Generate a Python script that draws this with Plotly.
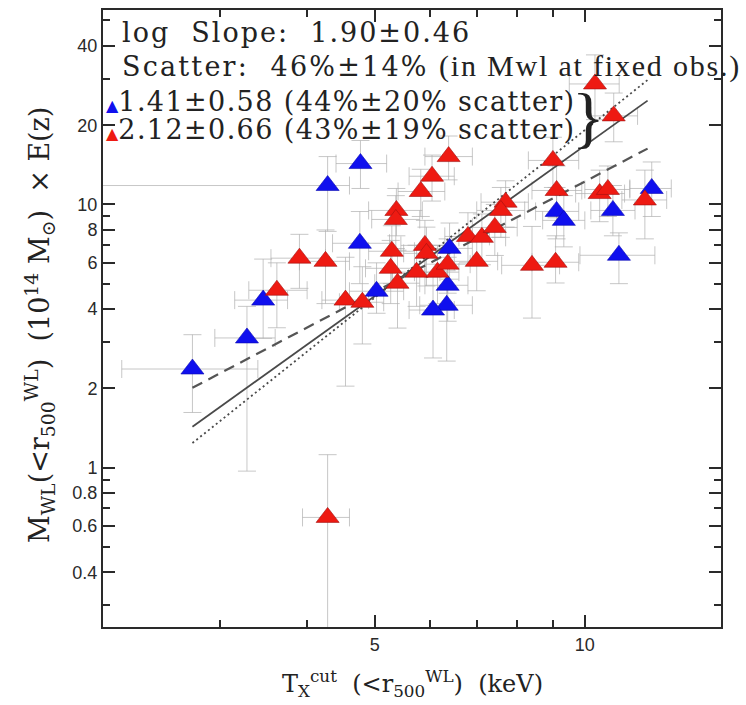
import plotly.graph_objects as go

# ---------------- data ----------------
blue_T = [2.74, 3.28, 3.46, 4.28, 4.77, 4.76, 5.03, 6.40, 6.36, 6.34, 6.06, 9.11, 9.33, 10.97, 11.19, 12.47]
blue_M = [2.37, 3.11, 4.33, 11.8, 14.3, 7.12, 4.68, 6.81, 4.93, 4.14, 3.97, 9.41, 8.70, 9.49, 6.41, 11.5]
blue_T_lo = [2.17, 2.95, 3.15, 1.5, 4.4, 4.35, 4.6, 5.9, 5.9, 5.8, 5.6, 8.5, 8.7, 10.2, 9.84, 11.6]
blue_T_hi = [3.40, 3.6, 3.75, 4.6, 5.2, 5.25, 5.5, 6.9, 6.8, 6.9, 6.5, 9.8, 10.0, 11.8, 12.6, 13.3]
blue_M_lo = [1.62, 0.97, 3.1, 7.9, 11.5, 5.0, 3.86, 5.2, 3.6, 2.54, 2.61, 7.4, 6.9, 7.6, 5.0, 9.0]
blue_M_hi = [3.2, 4.1, 6.2, 15.2, 17.5, 9.4, 6.0, 8.5, 6.3, 5.6, 5.3, 11.6, 10.8, 11.8, 7.8, 14.5]

red_T = [3.62, 3.90, 4.25, 4.28, 4.54, 4.80, 5.29, 5.27, 5.39, 5.37, 5.36, 5.82, 6.04, 6.38, 5.90, 5.93, 5.74,
         6.15, 6.36, 6.80, 7.12, 7.43, 7.70, 7.58, 7.00, 9.00, 9.11, 8.40, 9.08, 10.50, 10.79, 10.34, 11.0, 12.19]
red_M = [4.72, 6.25, 6.08, 0.647, 4.33, 4.25, 6.64, 5.72, 5.02, 9.49, 8.77, 11.2, 12.8, 15.2, 6.99, 6.52, 5.53,
         5.53, 5.93, 7.56, 7.50, 8.18, 10.2, 9.49, 6.08, 14.7, 11.3, 5.87, 6.03, 11.0, 11.4, 28.7, 21.7, 10.4]
red_T_lo = [3.3, 3.55, 3.9, 3.94, 4.2, 4.45, 4.9, 4.85, 5.0, 4.9, 4.95, 5.4, 5.6, 5.9, 5.45, 5.5, 5.3,
            5.7, 5.9, 6.3, 6.6, 6.9, 7.1, 7.0, 6.5, 8.3, 8.4, 7.6, 8.4, 9.7, 10.0, 9.5, 10.2, 11.3]
red_T_hi = [4.0, 4.25, 4.6, 4.6, 4.9, 5.15, 5.7, 5.7, 5.8, 5.85, 5.8, 6.3, 6.5, 6.9, 6.4, 6.4, 6.2,
            6.6, 6.85, 7.3, 7.7, 8.0, 8.3, 8.2, 7.5, 9.8, 9.9, 9.2, 9.8, 11.4, 11.6, 11.2, 11.9, 13.1]
red_M_lo = [3.4, 4.8, 4.2, 0.2, 2.04, 2.95, 5.0, 4.2, 3.39, 7.6, 6.8, 9.0, 10.3, 12.4, 5.4, 4.9, 4.1,
            4.2, 4.6, 6.0, 5.9, 6.4, 8.2, 7.5, 4.7, 11.6, 8.9, 3.7, 5.03, 8.6, 9.0, 21.0, 17.3, 7.4]
red_M_hi = [6.0, 7.7, 8.0, 1.12, 6.3, 5.8, 8.3, 7.3, 6.7, 11.5, 10.8, 13.6, 15.4, 18.2, 8.7, 8.2, 7.0,
            7.0, 7.4, 9.3, 9.2, 10.0, 12.3, 11.6, 7.6, 18.0, 14.0, 8.25, 7.6, 13.5, 14.0, 37.0, 26.5, 13.5]

fit_T = [2.74, 12.3]
fit_all = [1.43, 24.8]
fit_red = [1.24, 29.7]
fit_blue = [2.01, 16.3]

x_ticks = [5, 10]
x_minor = [3, 4, 6, 7, 8, 9]
y_ticks = [0.4, 0.6, 0.8, 1, 2, 4, 6, 8, 10, 20, 40]
y_tick_text = ["0.4", "0.6", "0.8", "1", "2", "4", "6", "8", "10", "20", "40"]
y_minor = [0.3, 0.5, 0.7, 0.9, 3, 5, 7, 9, 30, 50]

# ---------------- figure ----------------
W, H = 746, 705
L, R, T, B = 103, 25, 8, 78
pw, ph = W - L - R, H - T - B


def px(x):
    return (x - L) / pw


def py(y):
    return (H - B - y) / ph


def errs(v, lo, hi):
    return [h - a for a, h in zip(v, hi)], [a - l for a, l in zip(v, lo)]


fig = go.Figure()
ebc = "rgba(175,175,175,0.7)"
for Tv, Mv, tlo, thi, mlo, mhi in [
    (blue_T, blue_M, blue_T_lo, blue_T_hi, blue_M_lo, blue_M_hi),
    (red_T, red_M, red_T_lo, red_T_hi, red_M_lo, red_M_hi),
]:
    xp, xm = errs(Tv, tlo, thi)
    yp, ym = errs(Mv, mlo, mhi)
    fig.add_trace(go.Scatter(
        x=Tv, y=Mv, mode="markers", marker=dict(size=1, opacity=0),
        error_x=dict(type="data", array=xp, arrayminus=xm, color=ebc, thickness=1, width=9),
        error_y=dict(type="data", array=yp, arrayminus=ym, color=ebc, thickness=1, width=9),
        showlegend=False, hoverinfo="skip"))

fig.add_trace(go.Scatter(x=fit_T, y=fit_all, mode="lines",
                         line=dict(color="#4a4a4a", width=1.8), showlegend=False))
fig.add_trace(go.Scatter(x=fit_T, y=fit_red, mode="lines",
                         line=dict(color="#4a4a4a", width=1.8, dash="2px,3px"), showlegend=False))
fig.add_trace(go.Scatter(x=fit_T, y=fit_blue, mode="lines",
                         line=dict(color="#555555", width=2.2, dash="11px,7px"), showlegend=False))

fig.add_trace(go.Scatter(x=blue_T, y=blue_M, mode="markers",
                         marker=dict(symbol="triangle-up", size=20, color="#1010ee",
                                     line=dict(color="#0a0ab0", width=0.6)), showlegend=False))
fig.add_trace(go.Scatter(x=red_T, y=red_M, mode="markers",
                         marker=dict(symbol="triangle-up", size=20, color="#ee1a12",
                                     line=dict(color="#a01010", width=0.6)), showlegend=False))

axis_common = dict(type="log", showgrid=False, zeroline=False, showline=True, linecolor="#2a2a2a",
                   linewidth=2, mirror="ticks", ticks="inside", ticklen=12, tickwidth=1.5,
                   tickcolor="#2a2a2a", tickfont=dict(family="Liberation Sans", size=18, color="#2a2a2a"))

fig.update_xaxes(**axis_common, range=[0.3096, 1.1951], tickmode="array", tickvals=x_ticks,
                 ticktext=[str(v) for v in x_ticks],
                 minor=dict(tickmode="array", tickvals=x_minor, ticks="inside", ticklen=7,
                            tickwidth=1.5, tickcolor="#2a2a2a", showgrid=False))
fig.update_yaxes(**axis_common, range=[-0.6055, 1.7388], tickmode="array", tickvals=y_ticks,
                 ticktext=y_tick_text,
                 minor=dict(tickmode="array", tickvals=y_minor, ticks="inside", ticklen=7,
                            tickwidth=1.5, tickcolor="#2a2a2a", showgrid=False))

serif = "DejaVu Serif"
tcol = "#222222"


def spaced(s, ls):
    return "<span style='letter-spacing:%spx'>%s</span>" % (ls, s)


ann = []
ann.append(dict(x=px(120), y=py(31), text=spaced("log  Slope:  1.90±0.46", 2),
                font=dict(family=serif, size=27, color=tcol)))
ann.append(dict(x=px(120), y=py(65), text=spaced("Scatter:  46%±14%", 2.2),
                font=dict(family=serif, size=27, color=tcol)))
ann.append(dict(x=px(437), y=py(64), text=spaced("(in Mwl at fixed obs.)", 1.8),
                font=dict(family="Liberation Serif", size=30, color=tcol)))
ann.append(dict(x=px(104), y=py(100),
                text="<span style='color:#1010ee;font-size:16px'>▲</span>" + spaced("1.41±0.58 (44%±20% scatter)", 1.4),
                font=dict(family=serif, size=27, color=tcol)))
ann.append(dict(x=px(104), y=py(128),
                text="<span style='color:#ee1a12;font-size:16px'>▲</span>" + spaced("2.12±0.66 (43%±19% scatter)", 1.4),
                font=dict(family=serif, size=27, color=tcol)))
ann.append(dict(x=px(570), y=py(115), text="}", font=dict(family="Liberation Serif", size=68, color=tcol)))
for a in ann:
    a.update(xref="paper", yref="paper", xanchor="left", yanchor="middle", showarrow=False)
# axis titles
ann.append(dict(x=px(412), y=py(684), xref="paper", yref="paper", showarrow=False,
                text="T<sub>X</sub><sup>cut</sup>  (&lt;r<sub>500</sub><sup>WL</sup>)  (keV)",
                font=dict(family=serif, size=24, color=tcol), xanchor="center", yanchor="middle"))
ann.append(dict(x=px(40), y=py(324), xref="paper", yref="paper", showarrow=False, textangle=-90,
                text="M<sub>WL</sub>(&lt;r<sub>500</sub><sup>WL</sup>)  (10<sup>14</sup> M<sub>⊙</sub>)  × E(z)",
                font=dict(family=serif, size=27, color=tcol), xanchor="center", yanchor="middle"))

fig.update_layout(width=W, height=H, margin=dict(l=L, r=R, t=T, b=B), plot_bgcolor="white",
                  paper_bgcolor="white", annotations=ann, showlegend=False)

fig.write_html("out.html")
